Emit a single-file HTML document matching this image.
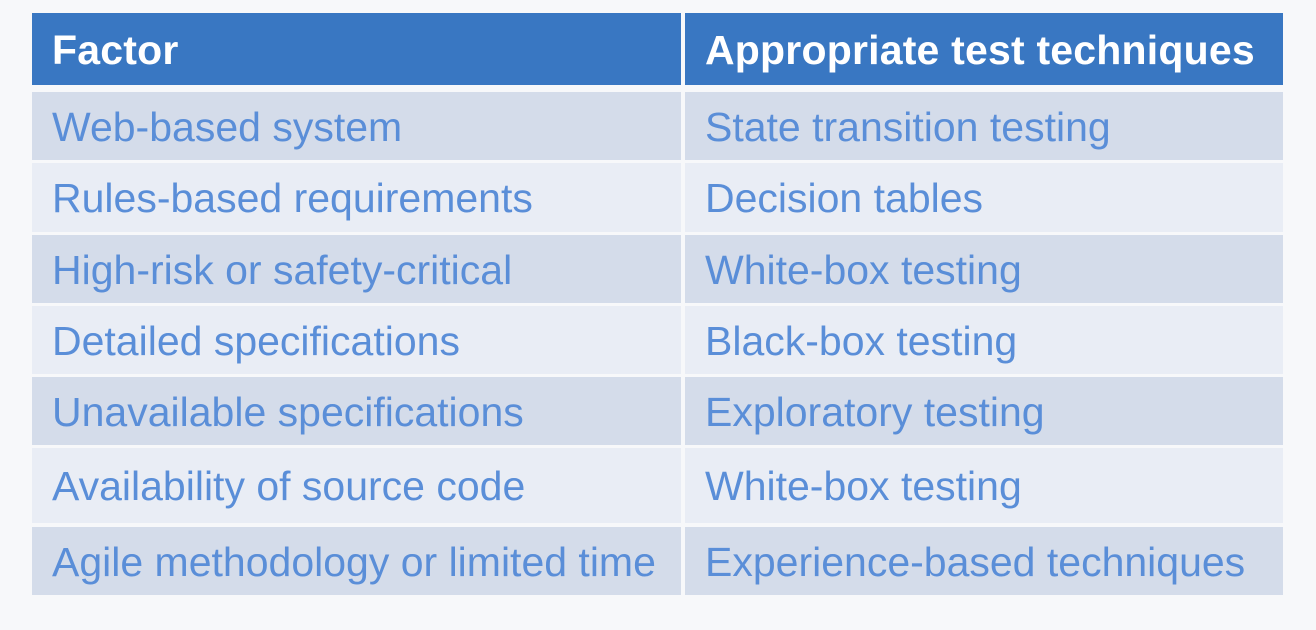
<!DOCTYPE html>
<html><head><style>
body{margin:0;width:1316px;height:630px;background:#f7f8fa;position:relative;overflow:hidden;font-family:"Liberation Sans",sans-serif}
.c{position:absolute;box-sizing:border-box;padding-left:20px;padding-top:2px;display:flex;align-items:center;font-size:41px;color:#5a8ed8;white-space:nowrap;letter-spacing:0px}
.h{background:#3977c2;color:#fff;font-weight:bold;font-size:41px;letter-spacing:0.2px}
.d{background:#d4dcea}.l{background:#e9edf5}
</style></head><body>
<div class="c h" style="left:32px;top:13px;width:649px;height:72px">Factor</div>
<div class="c h" style="left:685px;top:13px;width:598px;height:72px">Appropriate test techniques</div>

<div class="c d" style="left:32px;top:92px;width:649px;height:68px">Web-based system</div>
<div class="c d" style="left:685px;top:92px;width:598px;height:68px">State transition testing</div>

<div class="c l" style="left:32px;top:163px;width:649px;height:69px">Rules-based requirements</div>
<div class="c l" style="left:685px;top:163px;width:598px;height:69px">Decision tables</div>

<div class="c d" style="left:32px;top:235px;width:649px;height:68px">High-risk or safety-critical</div>
<div class="c d" style="left:685px;top:235px;width:598px;height:68px">White-box testing</div>

<div class="c l" style="left:32px;top:306px;width:649px;height:68px">Detailed specifications</div>
<div class="c l" style="left:685px;top:306px;width:598px;height:68px">Black-box testing</div>

<div class="c d" style="left:32px;top:377px;width:649px;height:68px">Unavailable specifications</div>
<div class="c d" style="left:685px;top:377px;width:598px;height:68px">Exploratory testing</div>

<div class="c l" style="left:32px;top:448px;width:649px;height:75px">Availability of source code</div>
<div class="c l" style="left:685px;top:448px;width:598px;height:75px">White-box testing</div>

<div class="c d" style="left:32px;top:527px;width:649px;height:68px">Agile methodology or limited time</div>
<div class="c d" style="left:685px;top:527px;width:598px;height:68px">Experience-based techniques</div>
</body></html>
